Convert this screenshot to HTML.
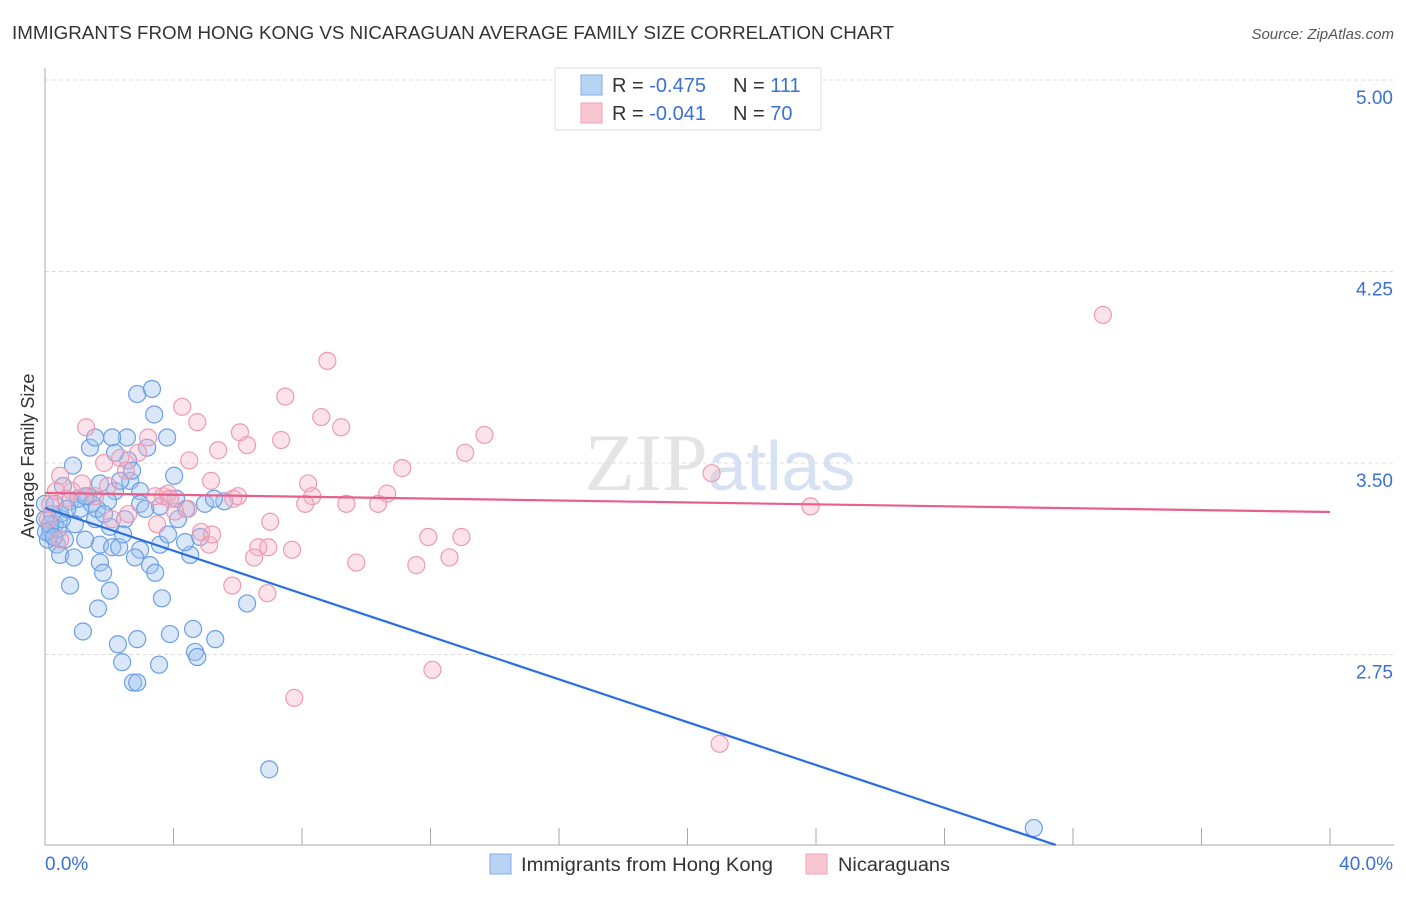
<!DOCTYPE html>
<html><head><meta charset="utf-8"><style>
body{margin:0;background:#fff;font-family:"Liberation Sans",sans-serif}
</style></head><body>
<svg id="c" width="1406" height="892" xmlns="http://www.w3.org/2000/svg" style="font-family:'Liberation Sans',sans-serif">
<text x="12" y="39" font-size="18" fill="#333" textLength="882" lengthAdjust="spacingAndGlyphs">IMMIGRANTS FROM HONG KONG VS NICARAGUAN AVERAGE FAMILY SIZE CORRELATION CHART</text>
<text x="1394" y="39" font-size="15" fill="#555" font-style="italic" text-anchor="end">Source: ZipAtlas.com</text>
<text x="720" y="490" font-size="82" fill="#e4e4e4" text-anchor="middle" font-family="Liberation Serif,serif">ZIP<tspan fill="#d6e2f3" font-family="Liberation Sans,sans-serif" font-size="70">atlas</tspan></text>
<text transform="translate(34,456) rotate(-90)" font-size="18" fill="#333" text-anchor="middle">Average Family Size</text>
<g id="grid"></g><g id="pts"></g><g id="lines"></g>
<g>
<rect x="555" y="68" width="266" height="62" fill="#fff" stroke="#ddd"/>
<rect x="581" y="75" width="21" height="20" fill="#b9d3f5" stroke="#86aee8"/>
<rect x="581" y="103" width="21" height="20" fill="#f9c6d4" stroke="#eda2b8"/>
<text x="612" y="92" font-size="20" fill="#333">R = <tspan fill="#3b72d0">-0.475</tspan><tspan x="733">N = </tspan><tspan fill="#3b72d0">111</tspan></text>
<text x="612" y="120" font-size="20" fill="#333">R = <tspan fill="#3b72d0">-0.041</tspan><tspan x="733">N = </tspan><tspan fill="#3b72d0">70</tspan></text>
</g>
<g>
<rect x="490" y="854" width="21" height="20" fill="#b9d3f5" stroke="#86aee8"/>
<text x="521" y="871" font-size="19" fill="#333" textLength="252" lengthAdjust="spacingAndGlyphs">Immigrants from Hong Kong</text>
<rect x="806" y="854" width="21" height="20" fill="#f9c6d4" stroke="#eda2b8"/>
<text x="838" y="871" font-size="19" fill="#333" textLength="112" lengthAdjust="spacingAndGlyphs">Nicaraguans</text>
</g>
</svg>
<script>
const yTicks=[5.00,4.25,3.50,2.75];
const yTickLabels=["5.00","4.25","3.50","2.75"];
const xTickVals=[0,4,8,12,16,20,24,28,32,36,40];
const xEndLabels=["0.0%","40.0%"];
const hkX=[2.87,3.33,3.40,1.40,1.56,2.55,3.80,3.18,4.02,0.87,2.09,2.59,0.56,1.34,1.71,2.18,2.65,2.96,4.08,4.98,5.58,4.39,3.58,2.96,1.96,0.78,1.09,0.47,0.31,0.93,1.56,2.02,2.49,0.16,0.37,0.62,1.25,1.71,2.09,2.96,3.58,4.52,4.83,3.83,3.27,3.43,1.71,1.81,0.78,2.02,3.64,6.29,1.65,1.18,2.87,2.27,3.89,4.61,5.30,4.67,4.74,2.40,3.55,2.74,2.87,6.98,30.78,0.0,0.16,0.22,0.09,0.40,0.53,1.03,1.46,2.34,2.71,2.18,2.31,2.80,0.47,0.90,1.25,1.62,1.84,2.43,3.12,4.14,4.36,5.26,0.0,0.31,0.69,0.16,0.03,0.28];
const hkY=[3.77,3.79,3.69,3.56,3.60,3.60,3.60,3.56,3.45,3.49,3.60,3.51,3.41,3.37,3.42,3.39,3.43,3.39,3.36,3.34,3.35,3.32,3.33,3.34,3.35,3.35,3.32,3.30,3.26,3.26,3.28,3.25,3.28,3.22,3.18,3.20,3.20,3.18,3.17,3.16,3.18,3.14,3.21,3.22,3.10,3.07,3.11,3.07,3.02,3.00,2.97,2.95,2.93,2.84,2.81,2.79,2.83,2.85,2.81,2.76,2.74,2.72,2.71,2.64,2.64,2.30,2.07,3.28,3.24,3.30,3.20,3.24,3.28,3.36,3.34,3.43,3.47,3.54,3.17,3.13,3.14,3.13,3.37,3.32,3.30,3.22,3.32,3.28,3.19,3.36,3.34,3.34,3.32,3.26,3.23,3.21];
const niX=[32.93,8.79,7.48,8.60,9.22,4.27,4.74,1.28,3.21,6.07,6.29,7.35,5.39,13.68,13.08,11.12,20.75,2.34,2.90,1.84,0.47,0.84,1.15,1.96,2.52,3.68,5.17,5.86,6.01,8.19,8.32,8.10,9.38,10.65,10.37,7.01,4.45,3.49,4.05,4.86,5.11,6.64,6.95,7.69,6.51,5.83,6.92,9.69,11.56,11.93,12.96,12.59,12.06,7.76,21.00,23.83,0.16,0.34,0.65,1.56,2.59,2.09,3.43,3.83,4.49,5.20,3.89,0.47,0.09];
const niY=[4.08,3.90,3.76,3.68,3.64,3.72,3.66,3.64,3.60,3.62,3.57,3.59,3.55,3.61,3.54,3.48,3.46,3.52,3.54,3.50,3.45,3.39,3.42,3.41,3.47,3.37,3.43,3.36,3.37,3.42,3.37,3.34,3.34,3.38,3.34,3.27,3.32,3.26,3.31,3.23,3.18,3.17,3.17,3.16,3.13,3.02,2.99,3.11,3.10,3.21,3.21,3.13,2.69,2.58,2.40,3.33,3.34,3.39,3.36,3.37,3.30,3.28,3.37,3.38,3.51,3.22,3.36,3.20,3.28];
const hkTrend=[[0,3.324],[31.46,2.004]];
const niTrend=[[0,3.383],[40,3.308]];
const NS="http://www.w3.org/2000/svg";
const X=v=>45+v*32.125, Y=v=>463-(v-3.5)*255.3;
function mk(tag,attrs,parent){const e=document.createElementNS(NS,tag);for(const k in attrs)e.setAttribute(k,attrs[k]);parent.appendChild(e);return e;}
const grid=document.getElementById('grid');
yTicks.forEach((t,i)=>{
 const l=mk('line',{x1:45,x2:1394,y1:Y(t),y2:Y(t),stroke:'#ddd','stroke-dasharray':'4,3'},grid);
 
 
 const tx=mk('text',{x:1393,y:Y(t)+24,'font-size':19,fill:'#3b72d0','text-anchor':'end'},grid);tx.textContent=yTickLabels[i];
 
 
});
const ax=mk('line',{x1:45,x2:45,y1:68,y2:845,stroke:'#aaa'},grid);


const bx=mk('line',{x1:45,x2:1394,y1:845,y2:845,stroke:'#aaa'},grid);


xTickVals.forEach(v=>{const t=mk('line',{x1:X(v),x2:X(v),y1:828,y2:845,stroke:'#aaa'},grid);
 
 });
[[0,'start'],[40,'end']].forEach((p,i)=>{const t=mk('text',{x:i?1393:45,y:870,'font-size':19,fill:'#3b72d0','text-anchor':p[1]},grid);t.textContent=xEndLabels[i];
 
 });
const pts=document.getElementById('pts');
hkX.forEach((x,i)=>{const c=mk('circle',{cx:X(x),cy:Y(hkY[i]),r:8.5,fill:'rgba(160,196,240,0.4)',stroke:'#6b9fe3','stroke-width':1.2},pts);
 
 });
niX.forEach((x,i)=>{const c=mk('circle',{cx:X(x),cy:Y(niY[i]),r:8.5,fill:'rgba(246,176,196,0.35)',stroke:'#ec9ab2','stroke-width':1.2},pts);
 
 });
const ln=document.getElementById('lines');
const a=mk('line',{x1:X(hkTrend[0][0]),y1:Y(hkTrend[0][1]),x2:X(hkTrend[1][0]),y2:Y(hkTrend[1][1]),stroke:'#2a6fd6','stroke-width':2.2},ln);


const b=mk('line',{x1:X(niTrend[0][0]),y1:Y(niTrend[0][1]),x2:X(niTrend[1][0]),y2:Y(niTrend[1][1]),stroke:'#e8608a','stroke-width':2.2},ln);


</script>
</body></html>
